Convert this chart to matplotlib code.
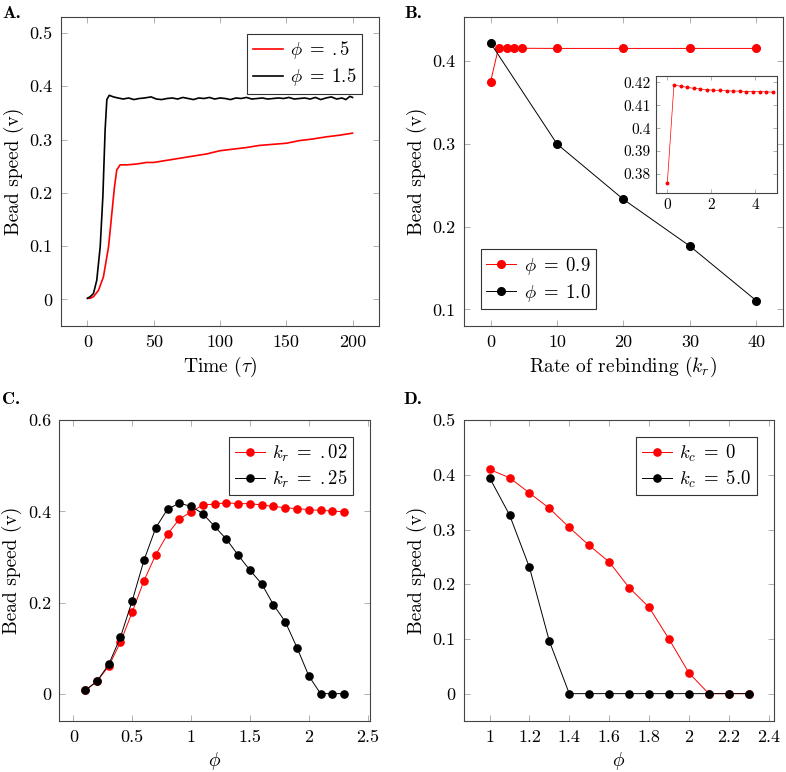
import matplotlib
matplotlib.use("Agg")
import matplotlib.pyplot as plt
from matplotlib.ticker import MultipleLocator, FuncFormatter

# Fonts that look like the LaTeX original
plt.rcParams["font.family"] = "cmr10"
plt.rcParams["mathtext.fontset"] = "cm"
plt.rcParams["axes.formatter.use_mathtext"] = True
plt.rcParams["axes.unicode_minus"] = False

# Panel A: bead speed over time
time_low = [0, 2, 4.5, 8.3, 12, 15.9, 18.4, 20.4, 22.1, 24.6, 30, 37, 44.7, 50, 60, 70, 77.4,
            90, 100, 110, 120, 130, 140, 150, 160, 170, 180, 190, 200]
speed_low = [0.002, 0.002, 0.005, 0.017, 0.042, 0.099, 0.162, 0.212, 0.243, 0.2525, 0.2525, 0.254,
             0.257, 0.257, 0.261, 0.265, 0.268, 0.273, 0.279, 0.282, 0.285, 0.289, 0.291, 0.293,
             0.298, 0.301, 0.305, 0.308, 0.312]
time_high = [0, 2, 4.5, 7, 9.6, 11.6, 13.3, 14.6, 16.4, 19.6, 23, 27, 31, 35, 39, 43, 48, 52, 56,
             60, 64, 68, 72, 76, 80, 84, 88, 92, 96, 100, 104, 108, 112, 116, 120, 124, 128, 132,
             136, 140, 144, 148, 152, 156, 160, 164, 168, 172, 176, 180, 184, 188, 192, 195, 198, 200]
speed_high = [0.002, 0.005, 0.011, 0.036, 0.099, 0.193, 0.318, 0.375, 0.383, 0.380, 0.378, 0.376,
              0.378, 0.375, 0.377, 0.378, 0.380, 0.376, 0.375, 0.377, 0.378, 0.376, 0.379, 0.377,
              0.375, 0.378, 0.377, 0.379, 0.376, 0.378, 0.377, 0.375, 0.378, 0.377, 0.379, 0.376,
              0.377, 0.378, 0.376, 0.377, 0.378, 0.377, 0.379, 0.376, 0.377, 0.378, 0.376, 0.379,
              0.375, 0.378, 0.380, 0.376, 0.378, 0.375, 0.381, 0.379]

# Panel B: speed vs rate of rebinding
kr_09 = [0, 1.2, 2.4, 3.6, 4.8, 10, 20, 30, 40]
speed_09 = [0.375, 0.4165, 0.4162, 0.416, 0.4157, 0.4155, 0.4155, 0.4155, 0.4155]
kr_10 = [0, 10, 20, 30, 40]
speed_10 = [0.422, 0.300, 0.233, 0.1765, 0.1105]

# Panel B inset: zoom on small k_r
kr_inset = [0, 0.3, 0.6, 0.9, 1.2, 1.5, 1.8, 2.1, 2.4, 2.7, 3.0, 3.3, 3.6, 3.9, 4.2, 4.5, 4.8]
speed_inset = [0.3759, 0.4187, 0.4184, 0.4178, 0.4174, 0.4171, 0.4168, 0.4166, 0.4165, 0.4163,
               0.4162, 0.4162, 0.4160, 0.4160, 0.4159, 0.4159, 0.4157]

# Panel C: speed vs phi for two k_r
phi_c = [0.1, 0.2, 0.3, 0.4, 0.5, 0.6, 0.7, 0.8, 0.9, 1.0, 1.1, 1.2, 1.3, 1.4, 1.5, 1.6, 1.7,
         1.8, 1.9, 2.0, 2.1, 2.2, 2.3]
speed_kr02 = [0.007, 0.027, 0.060, 0.113, 0.179, 0.248, 0.305, 0.350, 0.383, 0.399, 0.414, 0.416,
              0.419, 0.417, 0.417, 0.414, 0.411, 0.408, 0.406, 0.404, 0.402, 0.401, 0.399]
speed_kr25 = [0.007, 0.027, 0.064, 0.124, 0.204, 0.293, 0.364, 0.405, 0.418, 0.411, 0.395, 0.367,
              0.339, 0.304, 0.271, 0.241, 0.195, 0.158, 0.101, 0.039, 0.0, 0.0, 0.0]

# Panel D: speed vs phi for two k_c
phi_d = [1.0, 1.1, 1.2, 1.3, 1.4, 1.5, 1.6, 1.7, 1.8, 1.9, 2.0, 2.1, 2.2, 2.3]
speed_kc0 = [0.410, 0.395, 0.367, 0.339, 0.304, 0.271, 0.241, 0.194, 0.158, 0.100, 0.038, 0.0, 0.0, 0.0]
speed_kc5 = [0.395, 0.327, 0.231, 0.096, 0.0, 0.0, 0.0, 0.0, 0.0, 0.0, 0.0, 0.0, 0.0, 0.0]

RED = "#ff0000"
fmt = FuncFormatter(lambda v, pos: "%g" % round(v, 6))


# Give an axes the pgfplots look: grey inward ticks on all four sides
def style_axes(ax, xstep, ystep, size=13):
    ax.xaxis.set_major_locator(MultipleLocator(xstep))
    ax.yaxis.set_major_locator(MultipleLocator(ystep))
    ax.xaxis.set_major_formatter(fmt)
    ax.yaxis.set_major_formatter(fmt)
    ax.tick_params(direction="in", length=4, width=0.7, color="#b0b0b0",
                   top=True, right=True, labelsize=size, pad=6)
    for spine in ax.spines.values():
        spine.set_color("#444444")
        spine.set_linewidth(0.8)


def style_legend(ax, loc):
    leg = ax.legend(loc=loc, fancybox=False, edgecolor="#333333", framealpha=1,
                    fontsize=13.5, handlelength=1.6, handletextpad=0.4, borderpad=0.3,
                    labelspacing=0.25, borderaxespad=0.9)
    leg.get_frame().set_linewidth(0.8)


fig = plt.figure(figsize=(7.86, 7.72), dpi=100)

# --- A ---
axA = fig.add_axes([0.0776, 0.5777, 0.4046, 0.4003])
axA.plot(time_low, speed_low, color=RED, lw=1.2, label=r"$\phi\;=\;\mathrm{.5}$")
axA.plot(time_high, speed_high, color="black", lw=1.2, label=r"$\phi\;=\;1.5$")
axA.set_xlim(-20, 220)
axA.set_ylim(-0.05, 0.53)
style_axes(axA, 50, 0.1)
axA.set_xlabel(r"Time ($\tau$)", fontsize=14)
axA.set_ylabel("Bead speed (v)", fontsize=14)
style_legend(axA, "upper right")

# --- B ---
axB = fig.add_axes([0.5903, 0.5777, 0.4059, 0.4003])
axB.plot(kr_09, speed_09, color=RED, lw=0.7, marker="o", ms=5.5, label=r"$\phi\;=\;0.9$")
axB.plot(kr_10, speed_10, color="black", lw=0.7, marker="o", ms=5.5, label=r"$\phi\;=\;1.0$")
axB.set_xlim(-4, 44)
axB.set_ylim(0.08, 0.4535)
style_axes(axB, 10, 0.1)
axB.set_xlabel(r"Rate of rebinding ($k_r$)", fontsize=14)
axB.set_ylabel("Bead speed (v)", fontsize=14)
style_legend(axB, "lower left")

# Inset
axI = fig.add_axes([0.835, 0.7504, 0.1539, 0.1512])
axI.plot(kr_inset, speed_inset, color=RED, lw=0.5, marker="o", ms=1.8)
axI.set_xlim(-0.5, 5)
axI.set_ylim(0.3718, 0.4228)
style_axes(axI, 2, 0.01, size=11)
axI.tick_params(length=3, pad=4)

# --- C ---
axC = fig.add_axes([0.0754, 0.0661, 0.3953, 0.3895])
axC.plot(phi_c, speed_kr02, color=RED, lw=0.7, marker="o", ms=5.2, label=r"$k_r\;=\;\mathrm{.02}$")
axC.plot(phi_c, speed_kr25, color="black", lw=0.7, marker="o", ms=5.2, label=r"$k_r\;=\;\mathrm{.25}$")
axC.set_xlim(-0.12, 2.52)
axC.set_ylim(-0.06, 0.6)
style_axes(axC, 0.5, 0.2)
axC.set_xlabel(r"$\phi$", fontsize=14)
axC.set_ylabel("Bead speed (v)", fontsize=14)
style_legend(axC, "upper right")

# --- D ---
axD = fig.add_axes([0.5899, 0.0661, 0.3948, 0.3895])
axD.plot(phi_d, speed_kc0, color=RED, lw=0.7, marker="o", ms=5.2, label=r"$k_c\;=\;0$")
axD.plot(phi_d, speed_kc5, color="black", lw=0.7, marker="o", ms=5.2, label=r"$k_c\;=\;5.0$")
axD.set_xlim(0.87, 2.427)
axD.set_ylim(-0.05, 0.5)
style_axes(axD, 0.2, 0.1)
axD.set_xlabel(r"$\phi$", fontsize=14)
axD.set_ylabel("Bead speed (v)", fontsize=14)
style_legend(axD, "upper right")

# Panel letters
for label, x, y in [("A.", 0.003, 0.992), ("B.", 0.514, 0.992),
                    ("C.", 0.003, 0.492), ("D.", 0.513, 0.492)]:
    fig.text(x, y, label, family="cmb10", fontsize=13, ha="left", va="top")

fig.savefig("out.png", dpi=100)
